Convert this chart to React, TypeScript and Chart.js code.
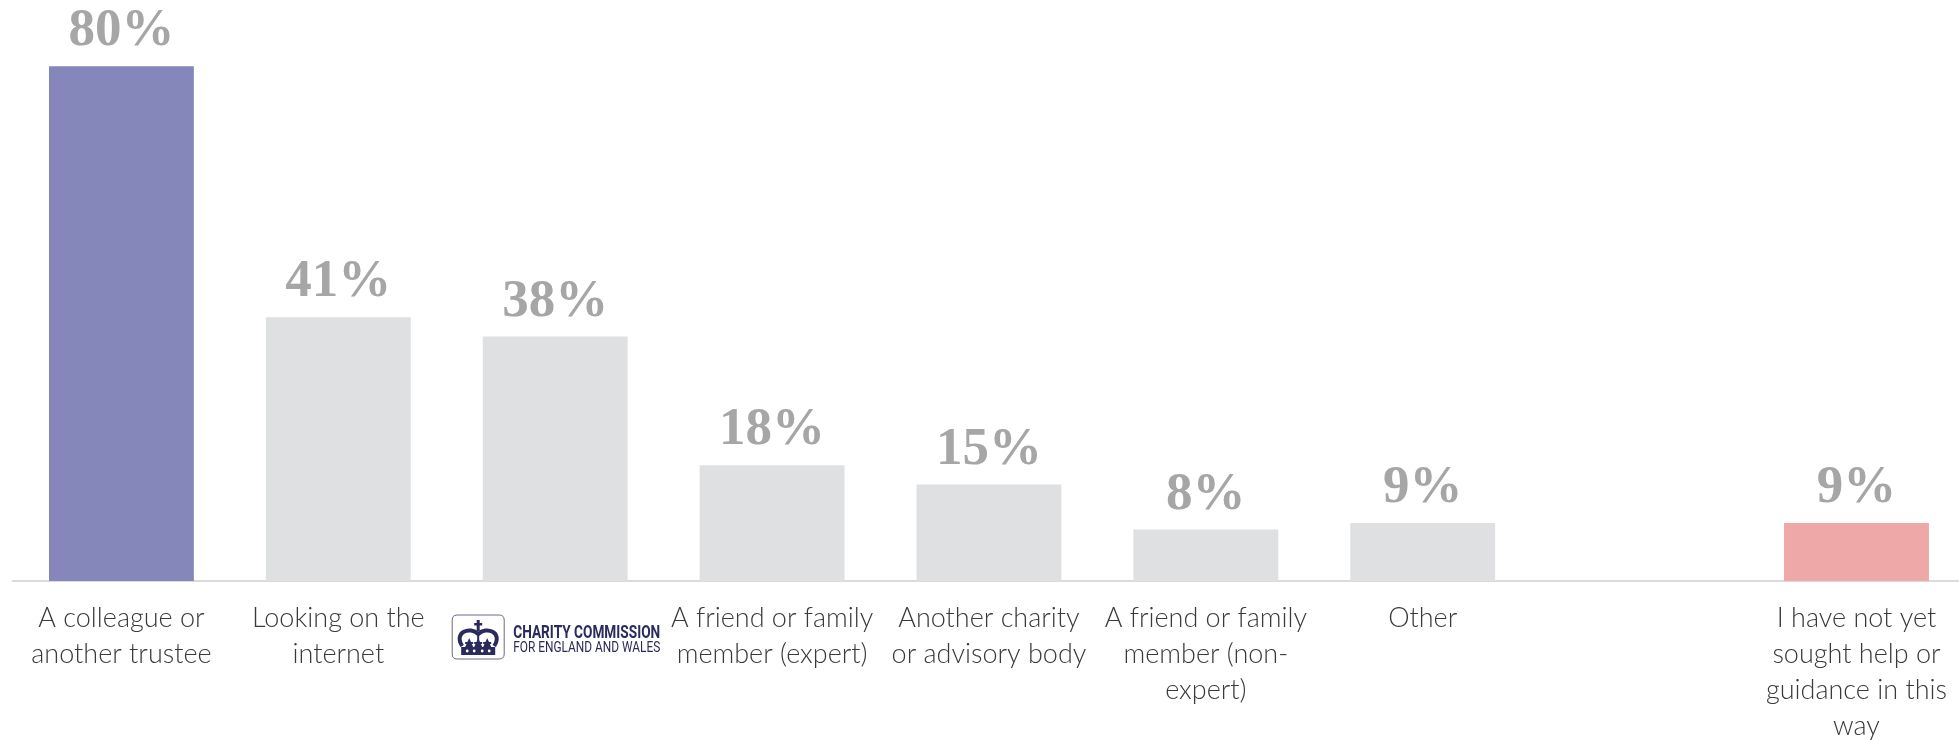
import React, { useEffect, useRef } from "react";
import { Chart, registerables } from "chart.js";

Chart.register(...registerables);

const categories: string[][] = [
  ["A colleague or", "another trustee"],
  ["Looking on the", "internet"],
  ["Charity Commission"],
  ["A friend or family", "member (expert)"],
  ["Another charity", "or advisory body"],
  ["A friend or family", "member (non-", "expert)"],
  ["Other"],
  [""],
  ["I have not yet", "sought help or", "guidance in this", "way"],
];
const values: (number | null)[] = [80, 41, 38, 18, 15, 8, 9, null, 9];
const barColors: string[] = [
  "#8587bb", "#dfe0e2", "#dfe0e2", "#dfe0e2", "#dfe0e2", "#dfe0e2", "#dfe0e2", "#dfe0e2", "#eea8a8",
];
const logoIndex = 2;
const logoLines = ["CHARITY COMMISSION", "FOR ENGLAND AND WALES"];

const valueLabelPlugin = {
  id: "valueLabels",
  afterDatasetsDraw(chart: any) {
    const ctx = chart.ctx;
    const meta = chart.getDatasetMeta(0);
    ctx.save();
    ctx.fillStyle = "#a6a6a6";
    ctx.font = "bold 53px 'Liberation Serif', 'DejaVu Serif', serif";
    ctx.textAlign = "center";
    ctx.textBaseline = "alphabetic";
    meta.data.forEach((bar: any, i: number) => {
      const v = values[i];
      if (v === null || v === undefined) return;
      ctx.fillText(v + "%", bar.x, bar.y - 21);
    });
    ctx.restore();
  },
};

const logoPlugin = {
  id: "logo",
  afterDraw(chart: any) {
    const ctx = chart.ctx;
    const xs = chart.scales.x;
    const cx = xs.getPixelForValue(logoIndex);
    const axisY = chart.chartArea.bottom;
    const left = cx - 103;
    const top = axisY + 34;
    const navy = "#2b2a5c";
    ctx.save();
    ctx.strokeStyle = "#6a6a86";
    ctx.lineWidth = 1;
    const bw = 52, bh = 44, r = 5;
    ctx.beginPath();
    ctx.moveTo(left + r, top);
    ctx.lineTo(left + bw - r, top);
    ctx.quadraticCurveTo(left + bw, top, left + bw, top + r);
    ctx.lineTo(left + bw, top + bh - r);
    ctx.quadraticCurveTo(left + bw, top + bh, left + bw - r, top + bh);
    ctx.lineTo(left + r, top + bh);
    ctx.quadraticCurveTo(left, top + bh, left, top + bh - r);
    ctx.lineTo(left, top + r);
    ctx.quadraticCurveTo(left, top, left + r, top);
    ctx.closePath();
    ctx.stroke();
    const ccx = left + 26;
    ctx.fillStyle = navy;
    ctx.strokeStyle = navy;
    ctx.fillRect(ccx - 1.5, top + 5, 3, 11);
    ctx.fillRect(ccx - 4, top + 8, 8, 2.5);
    ctx.lineWidth = 4;
    ctx.beginPath();
    ctx.moveTo(ccx - 16, top + 31);
    ctx.bezierCurveTo(ccx - 25, top + 17, ccx - 8, top + 11, ccx, top + 19);
    ctx.bezierCurveTo(ccx + 8, top + 11, ccx + 25, top + 17, ccx + 16, top + 31);
    ctx.stroke();
    ctx.lineWidth = 2;
    ctx.beginPath();
    ctx.moveTo(ccx, top + 19);
    ctx.lineTo(ccx, top + 32);
    ctx.stroke();
    [-9, 0, 9].forEach((dx) => {
      ctx.beginPath();
      ctx.moveTo(ccx + dx, top + 23);
      ctx.lineTo(ccx + dx + 4, top + 32);
      ctx.lineTo(ccx + dx - 4, top + 32);
      ctx.closePath();
      ctx.fill();
      ctx.fillRect(ccx + dx - 4, top + 27, 8, 2);
    });
    ctx.fillRect(ccx - 17, top + 32, 34, 8);
    ctx.fillStyle = "#ffffff";
    [-11, -4, 4, 11].forEach((dx) => {
      ctx.beginPath();
      ctx.arc(ccx + dx, top + 36, 1.4, 0, Math.PI * 2);
      ctx.fill();
    });
    ctx.fillStyle = navy;
    ctx.textAlign = "left";
    ctx.textBaseline = "alphabetic";
    ctx.font = "bold 19px 'Roboto', 'Liberation Sans', sans-serif";
    ctx.fillText(logoLines[0], left + 61, top + 23, 147);
    ctx.font = "15px 'Roboto', 'Liberation Sans', sans-serif";
    ctx.fillText(logoLines[1], left + 61, top + 37, 147);
    ctx.restore();
  },
};

export default function App() {
  const ref = useRef<HTMLCanvasElement | null>(null);
  useEffect(() => {
    document.body.style.margin = "0";
    const canvas = ref.current;
    if (!canvas) return;
    const chart = new Chart(canvas, {
      type: "bar",
      data: {
        labels: categories,
        datasets: [
          {
            data: values,
            backgroundColor: barColors,
            borderWidth: 0,
            categoryPercentage: 1,
            barPercentage: 0.668,
          },
        ],
      },
      options: {
        animation: false,
        responsive: false,
        maintainAspectRatio: false,
        layout: { padding: { top: 2, left: 13, right: 0, bottom: 0 } },
        plugins: {
          legend: { display: false },
          tooltip: { enabled: false },
        },
        scales: {
          x: {
            grid: { display: false, drawTicks: false },
            border: { display: true, color: "#dedada", width: 2 },
            ticks: {
              color: "#3a3a3a",
              font: { family: "Lato, 'Open Sans', sans-serif", size: 27, weight: "300", lineHeight: 1.34 },
              padding: 19,
              maxRotation: 0,
              autoSkip: false,
              callback: (_v: any, i: number) => (i === logoIndex ? "" : categories[i]),
            },
            afterFit: (s: any) => {
              s.height = 159;
            },
          },
          y: {
            display: false,
            min: 0,
            max: 90,
          },
        },
      },
      plugins: [valueLabelPlugin, logoPlugin],
    } as any);
    return () => chart.destroy();
  }, []);
  return (
    <div style={{ width: 1959, height: 740, overflow: "hidden", position: "relative" }}>
      <canvas ref={ref} width={1966} height={740} style={{ display: "block" }} />
    </div>
  );
}
